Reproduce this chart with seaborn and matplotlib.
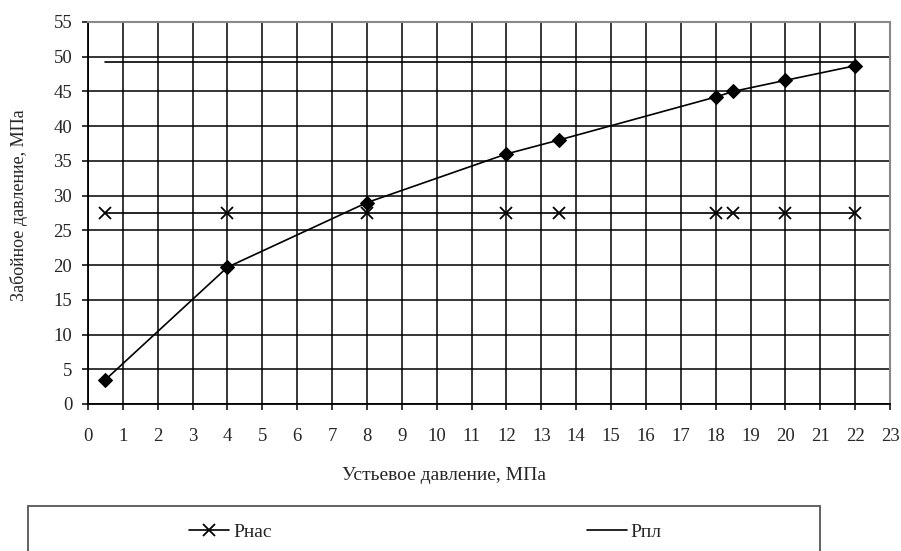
import matplotlib
matplotlib.use("Agg")
import matplotlib.pyplot as plt
from matplotlib.patches import Rectangle
import seaborn as sns

# устьевое давление, МПа
p_ust = [0.5, 4, 8, 12, 13.5, 18, 18.5, 20, 22]
# забойное давление, МПа
p_zab = [3.5, 19.7, 29.0, 36.0, 38.0, 44.2, 45.0, 46.6, 48.7]
# давление насыщения и пластовое
p_nas = [27.5, 27.5, 27.5, 27.5, 27.5, 27.5, 27.5, 27.5, 27.5]
p_pl = [49.3, 49.3, 49.3, 49.3, 49.3, 49.3, 49.3, 49.3, 49.3]

x_ticks = list(range(0, 24))
y_ticks = list(range(0, 56, 5))

sns.set_style("white")
plt.rcParams['font.family'] = ['Liberation Serif', 'DejaVu Serif']

fig = plt.figure(figsize=(9.01, 5.51), dpi=100)
ax = fig.add_axes([88 / 901, 1 - 404 / 551, 802 / 901, 382 / 551])

sns.lineplot(x=p_ust, y=p_zab, ax=ax, color="black", lw=1.2,
             marker="D", markersize=7, markeredgecolor="black", label="_zab")
sns.lineplot(x=p_ust, y=p_nas, ax=ax, color="black", lw=1.2,
             marker="x", markersize=8, markeredgewidth=1.3,
             markeredgecolor="black", label="Рнас")
sns.lineplot(x=p_ust, y=p_pl, ax=ax, color="black", lw=1.2, label="Рпл")

ax.set_xlim(0, 23)
ax.set_ylim(0, 55)
ax.set_xticks(x_ticks)
ax.set_yticks(y_ticks)
ax.grid(True, color="black", lw=1.1)
ax.set_axisbelow(True)

ax.tick_params(axis="both", labelsize=13.5, direction="out", length=4.3,
               width=1.1, color="black", left=True, bottom=True)
ax.tick_params(axis="x", pad=13)
ax.tick_params(axis="y", pad=7)

for side in ["left", "bottom"]:
    ax.spines[side].set_color("black")
    ax.spines[side].set_linewidth(1.3)
for side in ["top", "right"]:
    ax.spines[side].set_color("#888888")
    ax.spines[side].set_linewidth(1.5)

ax.set_xlabel("Устьевое давление, МПа", fontsize=14)
ax.set_ylabel("Забойное давление, МПа", fontsize=13)
ax.xaxis.set_label_coords(0.444, -0.165)
ax.yaxis.set_label_coords(-0.075, 0.52)

ax.legend_.remove()
handles, labels = ax.get_legend_handles_labels()
leg = fig.legend(handles, labels, loc="center", ncol=2,
                 bbox_to_anchor=(425.5 / 901, 1 - 532 / 551),
                 fontsize=14, frameon=False, handlelength=2.06,
                 handletextpad=0.2, columnspacing=16.2)

# рамка легенды, уходящая за нижний край
fig.patches.append(Rectangle((28 / 901, -0.05), 792 / 901, (551 - 506) / 551 + 0.05,
                             transform=fig.transFigure, fill=False,
                             edgecolor="#555555", lw=1.3))

fig.savefig("out.png", dpi=100)
